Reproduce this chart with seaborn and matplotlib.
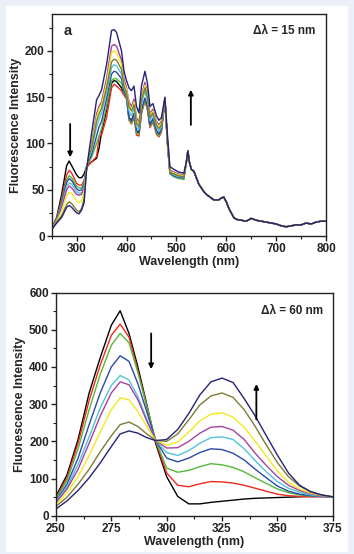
import numpy as np
import pandas as pd
import seaborn as sns
import matplotlib
matplotlib.use("Agg")
import matplotlib.pyplot as plt
from matplotlib.patches import Rectangle
from matplotlib.ticker import MultipleLocator

# 荧光光谱数据
SAMPLES = ["s1", "s2", "s3", "s4", "s5", "s6", "s7", "s8", "s9"]
COLORS = ["#000000", "#f0281e", "#55b83a", "#2b4aa8", "#52c3d8",
          "#a8409e", "#f2ea1c", "#7f7a35", "#232478"]

# 上图: Δλ = 15 nm
TOP_WL_HEAD = [250, 260, 270, 280, 285, 290, 300, 305, 310, 315, 320, 325, 330, 340,
               345, 350, 360, 370, 375, 380, 390, 395, 400, 405, 410, 415, 420, 425,
               430, 437, 442, 447, 453, 460, 465, 470, 477, 482, 487, 495, 505, 515]
TOP_HEAD = [
    [8, 20, 45, 76, 81, 76, 66, 63, 63, 67, 75, 78, 80, 84, 95, 112, 136, 165, 168, 167,
     160, 154, 150, 128, 125, 132, 113, 111, 135, 148, 139, 120, 126, 113, 110, 115, 148, 101, 69, 66, 64, 63],
    [8, 19, 40, 66, 71, 68, 57, 55, 55, 60, 74, 77, 80, 86, 107, 109, 128, 160, 164, 162,
     157, 152, 148, 125, 121, 128, 109, 108, 132, 146, 136, 117, 123, 110, 107, 112, 146, 100, 68, 66, 64, 63],
    [8, 18, 37, 61, 65, 63, 54, 52, 52, 58, 73, 80, 85, 100, 108, 116, 140, 168, 170, 170,
     165, 155, 150, 126, 122, 130, 111, 110, 134, 147, 138, 118, 125, 112, 108, 114, 147, 100, 67, 64, 62, 61],
    [8, 18, 35, 58, 62, 60, 51, 49, 50, 56, 73, 82, 88, 108, 118, 124, 148, 175, 178, 177,
     170, 157, 151, 128, 124, 132, 114, 112, 137, 149, 140, 120, 127, 114, 110, 116, 148, 101, 68, 65, 63, 63],
    [8, 17, 33, 54, 57, 56, 48, 46, 47, 54, 73, 85, 92, 118, 126, 133, 155, 182, 185, 184,
     175, 160, 153, 135, 130, 138, 118, 115, 143, 156, 146, 125, 131, 118, 113, 118, 148, 102, 69, 66, 64, 64],
    [8, 17, 31, 50, 54, 52, 45, 44, 45, 52, 73, 88, 100, 132, 140, 145, 170, 205, 207, 205,
     190, 170, 160, 145, 140, 148, 128, 122, 152, 166, 155, 132, 137, 124, 120, 124, 149, 105, 71, 69, 67, 66],
    [7, 16, 27, 44, 47, 46, 38, 36, 38, 48, 73, 88, 97, 128, 137, 142, 165, 198, 200, 198,
     185, 165, 158, 142, 137, 145, 125, 120, 150, 163, 152, 130, 135, 122, 118, 122, 149, 104, 70, 68, 66, 65],
    [7, 15, 22, 34, 37, 35, 28, 26, 30, 40, 72, 87, 95, 124, 132, 138, 160, 188, 191, 190,
     180, 162, 155, 140, 135, 142, 122, 118, 147, 160, 150, 128, 133, 120, 116, 120, 148, 103, 69, 67, 65, 64],
    [7, 14, 20, 31, 33, 31, 25, 24, 28, 36, 72, 92, 111, 147, 152, 158, 185, 222, 223, 220,
     200, 178, 168, 160, 157, 162, 140, 133, 162, 178, 165, 140, 143, 130, 125, 128, 150, 110, 75, 72, 69, 68],
]
# 500 nm 以后各曲线基本重合
TOP_WL_TAIL = [520, 523, 526, 530, 535, 540, 545, 550, 555, 560, 565, 570, 575, 580,
               585, 590, 595, 600, 605, 610, 615, 620, 630, 640, 650, 660, 670, 680,
               690, 700, 710, 720, 730, 740, 750, 760, 770, 780, 790, 800]
TOP_TAIL = [80, 92, 80, 72, 70, 63, 56, 52, 48, 45, 43, 41, 39, 39,
            39, 41, 42, 37, 30, 25, 20, 18, 17, 16, 19, 17, 16, 15,
            14, 13, 11, 10, 11, 12, 12, 14, 13, 15, 16, 16]

# 下图: Δλ = 60 nm
BOT_WL = [250, 255, 260, 265, 270, 275, 279, 283, 287, 291, 295, 300, 305, 310,
          315, 320, 325, 330, 335, 340, 345, 350, 355, 360, 365, 370, 375]
BOT = [
    [52, 110, 205, 330, 425, 512, 551, 490, 400, 300, 195, 105, 52, 32,
     32, 36, 39, 42, 45, 47, 48, 49, 50, 51, 52, 52, 51],
    [48, 102, 195, 310, 405, 485, 515, 480, 390, 295, 200, 115, 82, 78,
     86, 92, 91, 88, 82, 74, 66, 58, 54, 52, 51, 51, 51],
    [45, 95, 180, 285, 380, 458, 490, 465, 385, 295, 203, 128, 117, 122,
     132, 140, 137, 130, 118, 102, 87, 72, 62, 56, 53, 52, 51],
    [40, 85, 155, 245, 330, 400, 430, 415, 355, 280, 203, 155, 145, 155,
     170, 180, 178, 168, 150, 125, 102, 80, 66, 58, 54, 52, 51],
    [38, 78, 138, 212, 290, 350, 377, 365, 320, 260, 203, 170, 162, 175,
     195, 210, 212, 205, 180, 148, 118, 92, 74, 63, 56, 53, 51],
    [35, 72, 125, 195, 268, 330, 360, 352, 312, 255, 203, 182, 183, 200,
     222, 238, 240, 230, 205, 168, 135, 105, 82, 68, 59, 54, 51],
    [30, 62, 105, 162, 225, 285, 317, 312, 280, 240, 203, 190, 198, 225,
     255, 273, 277, 265, 238, 200, 160, 120, 90, 72, 61, 55, 51],
    [25, 50, 85, 125, 172, 215, 245, 252, 240, 220, 203, 200, 220, 258,
     298, 322, 330, 318, 285, 240, 190, 143, 105, 80, 64, 56, 51],
    [18, 40, 68, 102, 142, 186, 220, 228, 222, 210, 202, 205, 232, 275,
     325, 360, 370, 358, 315, 268, 215, 163, 115, 82, 65, 56, 51],
]

rows_top = []
for name, head in zip(SAMPLES, TOP_HEAD):
    for w, v in zip(TOP_WL_HEAD + TOP_WL_TAIL, head + TOP_TAIL):
        rows_top.append((w, v, name))
df_top = pd.DataFrame(rows_top, columns=["wl", "I", "sample"])

rows_bot = []
for name, vals in zip(SAMPLES, BOT):
    for w, v in zip(BOT_WL, vals):
        rows_bot.append((w, v, name))
df_bot = pd.DataFrame(rows_bot, columns=["wl", "I", "sample"])

sns.set_theme(style="ticks")
plt.rcParams["font.family"] = ["Liberation Sans", "DejaVu Sans"]
plt.rcParams["font.weight"] = "bold"

fig = plt.figure(figsize=(3.54, 5.54), dpi=100, facecolor="#ebeff8")
fig.patches.append(Rectangle((6 / 354, 2 / 554), 342 / 354, 546 / 554,
                             transform=fig.transFigure, facecolor="white",
                             edgecolor="none", zorder=-10))

ax1 = fig.add_axes([0.146, 0.574, 0.775, 0.401])
ax2 = fig.add_axes([0.158, 0.069, 0.782, 0.403])

palette = dict(zip(SAMPLES, COLORS))
sns.lineplot(data=df_top, x="wl", y="I", hue="sample", hue_order=SAMPLES,
             palette=palette, legend=False, lw=1.0, ax=ax1, sort=False)
sns.lineplot(data=df_bot, x="wl", y="I", hue="sample", hue_order=SAMPLES,
             palette=palette, legend=False, lw=1.0, ax=ax2, sort=False)

for ax in (ax1, ax2):
    ax.set_facecolor("white")
    for sp in ax.spines.values():
        sp.set_linewidth(1.0)
        sp.set_color("#222222")
    ax.tick_params(which="major", direction="out", length=3.5, width=1.0,
                   labelsize=8.5, pad=1.5, colors="#222222")
    ax.tick_params(which="minor", direction="out", length=2, width=0.8,
                   colors="#222222")
    ax.set_ylabel("Fluorescence Intensity", fontsize=9, fontweight="bold", labelpad=2)
    ax.set_xlabel("Wavelength (nm)", fontsize=9, fontweight="bold", labelpad=1)

ax1.set_xlim(250, 800)
ax1.set_ylim(0, 240)
ax1.xaxis.set_major_locator(MultipleLocator(100))
ax1.xaxis.set_minor_locator(MultipleLocator(50))
ax1.yaxis.set_major_locator(MultipleLocator(50))
ax1.yaxis.set_minor_locator(MultipleLocator(25))
ax1.set_xticks([300, 400, 500, 600, 700, 800])

ax2.set_xlim(250, 375)
ax2.set_ylim(0, 600)
ax2.xaxis.set_major_locator(MultipleLocator(25))
ax2.xaxis.set_minor_locator(MultipleLocator(12.5))
ax2.yaxis.set_major_locator(MultipleLocator(100))
ax2.yaxis.set_minor_locator(MultipleLocator(50))

for ax in (ax1, ax2):
    for lab in ax.get_xticklabels() + ax.get_yticklabels():
        lab.set_fontweight("bold")

arrow = dict(arrowstyle="-|>", color="black", lw=1.3, mutation_scale=7,
             shrinkA=0, shrinkB=0)
ax1.annotate("", xy=(287, 85), xytext=(287, 121), arrowprops=arrow)
ax1.annotate("", xy=(529, 158), xytext=(529, 120), arrowprops=arrow)
ax2.annotate("", xy=(293, 394), xytext=(293, 490), arrowprops=arrow)
ax2.annotate("", xy=(340.5, 354), xytext=(340.5, 259), arrowprops=arrow)

ax1.text(0.045, 0.925, "a", transform=ax1.transAxes, fontsize=10.5,
         fontweight="bold", ha="left", va="center")
ax1.text(0.96, 0.925, "Δλ = 15 nm", transform=ax1.transAxes, fontsize=8.5,
         fontweight="bold", ha="right", va="center")
ax2.text(0.965, 0.915, "Δλ = 60 nm", transform=ax2.transAxes, fontsize=8.5,
         fontweight="bold", ha="right", va="center")

fig.savefig("out.png", dpi=100, facecolor=fig.get_facecolor())
